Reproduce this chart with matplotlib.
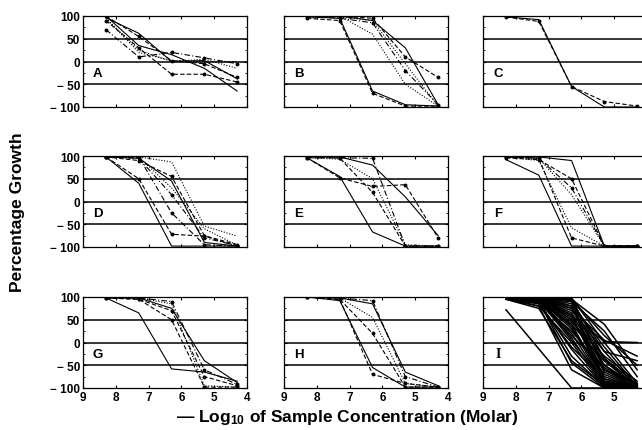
import matplotlib.pyplot as plt
from matplotlib.ticker import MultipleLocator

plt.rcParams['font.family'] = ['Liberation Sans', 'DejaVu Sans']
plt.rcParams['font.weight'] = 'bold'
plt.rcParams['mathtext.fontset'] = 'custom'
plt.rcParams['mathtext.rm'] = 'Liberation Sans:bold'
plt.rcParams['mathtext.default'] = 'rm'

# -log10 of the tested concentrations
conc = [8.3, 7.3, 6.3, 5.3, 4.3]

# percentage growth per cell line, one row per line, values at conc
panel_a = [
    [96, 62, 0, 2, -38],
    [100, 55, 2, -5, -35],
    [95, 25, 0, 5, -15],
    [70, 10, 20, 8, -5],
    [100, 35, 15, -15, -65],
    [90, 30, -28, -28, -45],
    [95, 20, 2, 0, 0],
]
panel_b = [
    [98, 95, -65, -95, -98],
    [95, 90, -70, -98, -98],
    [100, 98, 90, -5, -98],
    [100, 95, 85, -20, -95],
    [100, 100, 90, 30, -95],
    [100, 100, 95, 10, -35],
    [95, 100, 60, -50, -98],
]
panel_c = [
    [98, 92, -55, -100, -100],
    [98, 88, -55, -88, -98],
]
panel_d = [
    [98, 40, -98, -98, -98],
    [98, 50, -72, -76, -98],
    [98, 98, 87, -54, -76],
    [98, 98, -25, -95, -98],
    [98, 95, 45, -90, -98],
    [98, 90, 55, -75, -95],
    [98, 98, 30, -60, -96],
    [98, 95, 15, -80, -97],
]
panel_e = [
    [96, 55, -67, -98, -98],
    [96, 52, 33, 37, -80],
    [96, 93, 50, -95, -98],
    [96, 96, 95, -98, -98],
    [98, 98, 80, 10, -75],
    [98, 95, 20, -98, -98],
]
panel_f = [
    [92, 58, -98, -98, -98],
    [98, 95, -80, -98, -98],
    [98, 90, -58, -98, -98],
    [98, 95, 30, -98, -98],
    [98, 98, 90, -98, -98],
    [96, 92, 50, -98, -98],
    [98, 95, 15, -98, -98],
]
panel_g = [
    [98, 65, -58, -65, -85],
    [98, 95, 50, -98, -98],
    [98, 98, 85, -95, -98],
    [98, 98, 90, -60, -92],
    [98, 98, 75, -40, -88],
    [98, 95, 70, -75, -95],
]
panel_h = [
    [100, 92, -55, -98, -98],
    [100, 95, -70, -90, -98],
    [100, 98, 55, -90, -98],
    [100, 98, 92, -75, -98],
    [100, 98, 85, -65, -95],
    [100, 95, 20, -98, -98],
]
panel_i = [
    [100, 100, 60, -40, -98],
    [100, 95, 20, -90, -100],
    [98, 98, 90, -20, -98],
    [100, 90, -30, -98, -100],
    [95, 80, -60, -100, -100],
    [72, -14, -100, -100, -100],
    [100, 100, 95, 40, -60],
    [100, 98, 75, 5, -30],
    [100, 95, 60, 2, 0],
    [100, 100, 50, -50, -95],
    [98, 95, 30, -70, -100],
    [100, 100, 95, -60, -100],
    [100, 95, 10, -95, -100],
    [100, 85, -10, -80, -100],
    [100, 100, 80, -80, -100],
    [100, 90, 40, -85, -98],
    [100, 100, 98, 0, -90],
    [98, 80, 0, -98, -100],
    [100, 95, 45, -30, -85],
    [100, 100, 65, -65, -100],
    [95, 75, -40, -95, -100],
    [100, 100, 90, 25, -75],
    [100, 98, 55, -75, -100],
    [100, 92, 15, -55, -95],
    [100, 100, 75, -35, -92],
    [98, 88, -15, -98, -100],
    [100, 100, 92, -90, -100],
    [100, 97, 35, -92, -100],
    [100, 100, 85, -10, -96],
    [97, 85, 25, -60, -95],
    [100, 100, 70, -20, -40],
    [100, 99, 96, 15, -50],
    [100, 90, -45, -100, -100],
    [100, 100, 60, -88, -100],
    [100, 96, 50, -60, -90],
    [99, 92, 5, -85, -100],
    [100, 100, 80, -50, -98],
    [100, 100, 95, -35, -100],
    [100, 94, 40, -40, -98],
]

letters = ['A', 'B', 'C', 'D', 'E', 'F', 'G', 'H', 'I']
panels = [panel_a, panel_b, panel_c, panel_d, panel_e, panel_f, panel_g, panel_h, panel_i]

x_ticks = [9, 8, 7, 6, 5, 4]
y_ticks = [100, 50, 0, -50, -100]
y_tick_labels = ['100', '50', '0', '\u2212 50', '\u2212 100']

line_styles = ['-', (0, (4, 2)), (0, (1, 1.5)), (0, (5, 2, 1, 2))]

# panel geometry in pixels
W, H = 642, 431
lefts = [83, 284, 483]
tops = [17, 157, 298]
pw, ph = 164, 91

fig = plt.figure(figsize=(W / 100, H / 100), dpi=100)

for k, (letter, data) in enumerate(zip(letters, panels)):
    row, col = divmod(k, 3)
    ax = fig.add_axes([lefts[col] / W, 1 - (tops[row] + ph) / H, pw / W, ph / H])
    ax.set_xlim(9, 4)
    ax.set_ylim(-100, 100)

    for y in (50, 0, -50):
        ax.axhline(y, color='black', lw=1.1, zorder=1)

    for j, vals in enumerate(data):
        if letter == 'I':
            ax.plot(conc, vals, color='black', lw=1.1, zorder=2)
        else:
            ax.plot(conc, vals, color='black', lw=0.8,
                    linestyle=line_styles[j % len(line_styles)],
                    marker='o' if j % 2 == 1 else None, markersize=1.8, zorder=2)

    if letter == 'I':
        ax.text(8.55, -25, letter, ha='center', va='center', fontsize=10,
                family='Liberation Serif', fontweight='bold')
    else:
        ax.text(8.55, -25, letter, ha='center', va='center', fontsize=9.5)

    ax.set_xticks(x_ticks)
    ax.set_yticks(y_ticks)
    ax.yaxis.set_minor_locator(MultipleLocator(25))
    ax.tick_params(direction='in', top=True, right=True, length=2.5, width=0.8,
                   labelsize=8.5, pad=2)
    ax.tick_params(which='minor', direction='in', right=True, length=1.5, width=0.6)

    if col == 0:
        ax.set_yticklabels(y_tick_labels)
    else:
        ax.set_yticklabels([])
    if row == 2:
        ax.set_xticklabels([str(t) for t in x_ticks])
    else:
        ax.set_xticklabels([])

    for s in ax.spines.values():
        s.set_linewidth(0.9)

fig.text(18 / W, 1 - 212 / H, 'Percentage Growth', rotation=90,
         ha='center', va='center', fontsize=12.5)
fig.text(347 / W, 1 - 418 / H, '\u2014 Log$_{10}$ of Sample Concentration (Molar)',
         ha='center', va='center', fontsize=12.5)

fig.savefig('out.png', dpi=100)
